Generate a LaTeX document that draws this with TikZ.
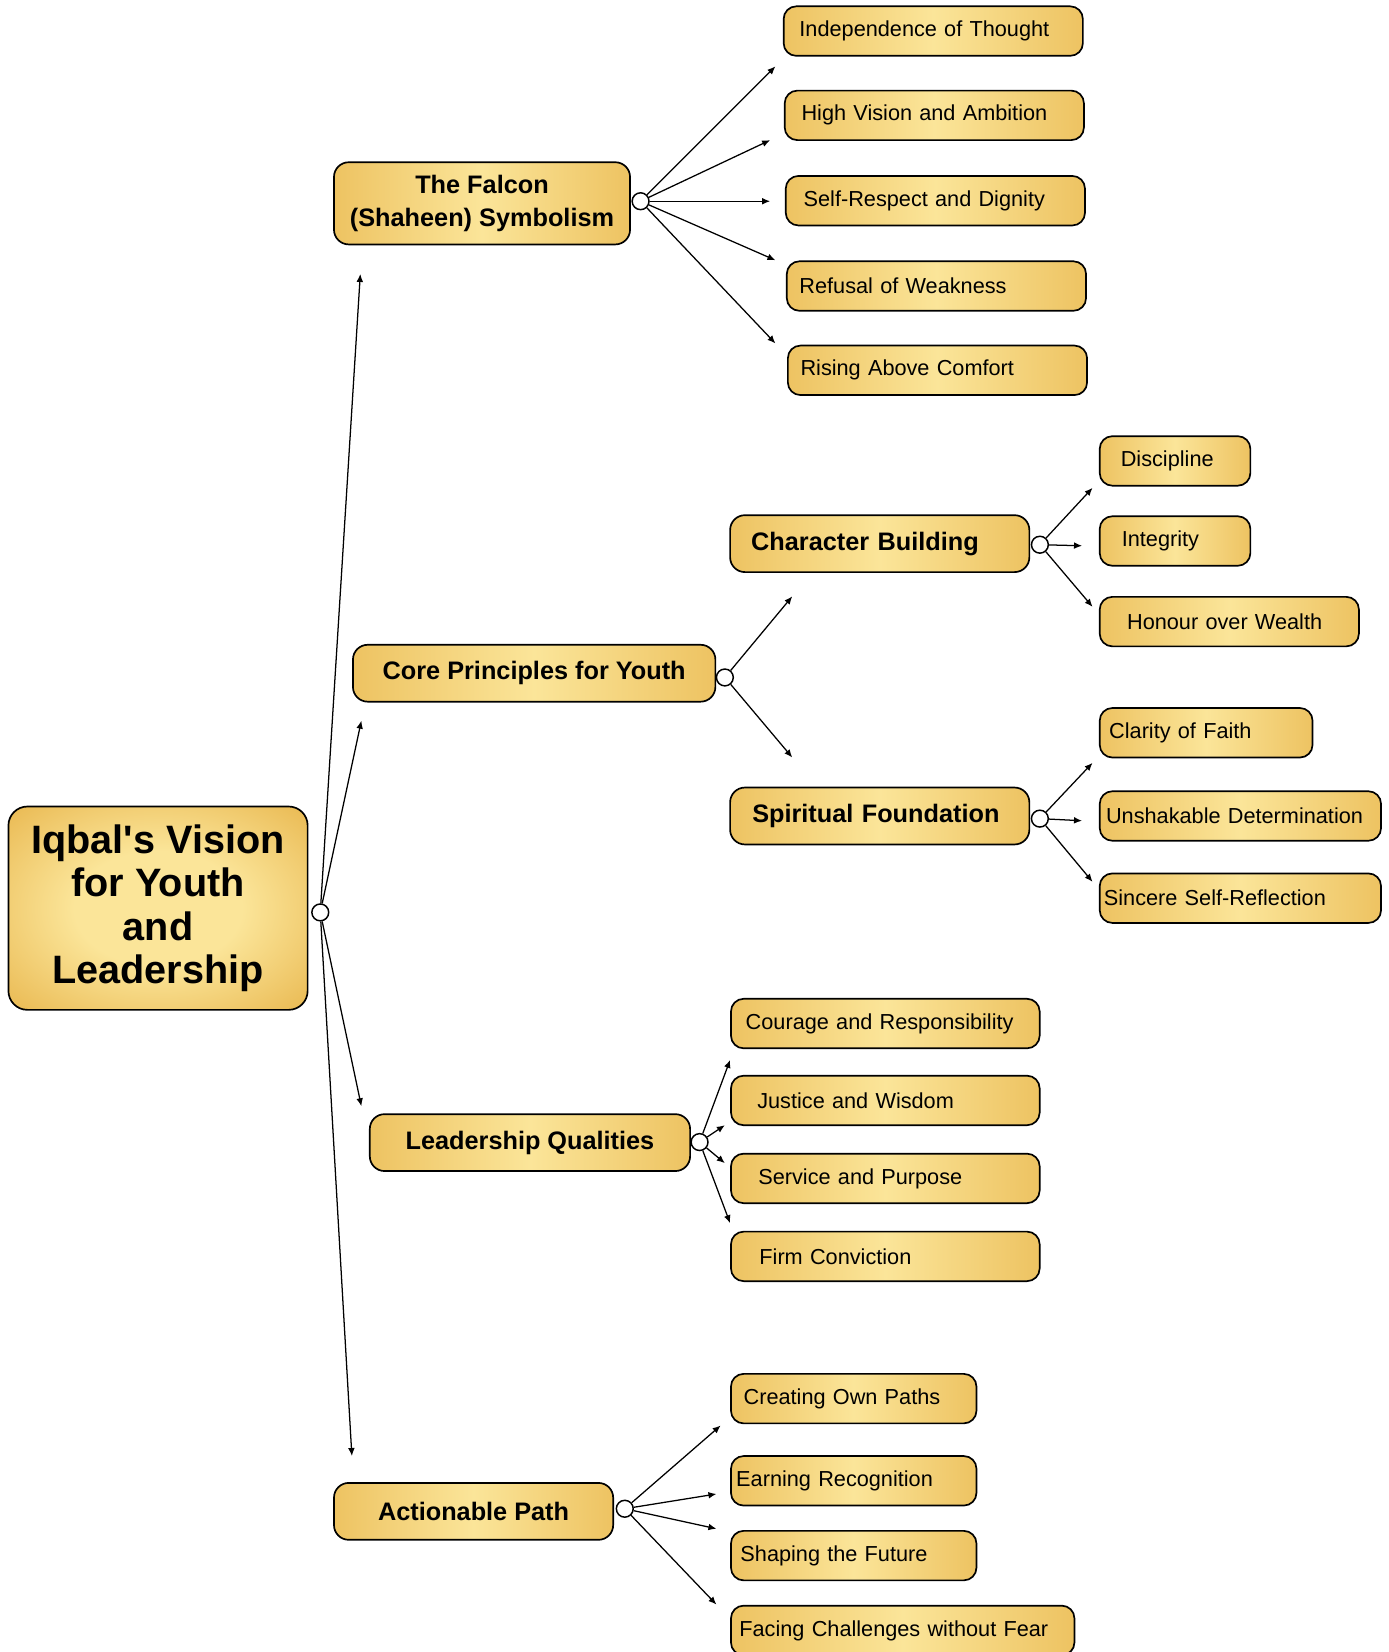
\documentclass[tikz,border=0pt]{standalone}
\usepackage{fontspec}
\setmainfont{Liberation Sans}
\usepackage{xcolor}
\usepackage{tikz}
\usetikzlibrary{arrows.meta}
\usetikzlibrary{positioning}
\definecolor{goldtan}{RGB}{217,179,106}
\definecolor{goldmid}{RGB}{233,184,80}
\definecolor{goldlight}{RGB}{251,229,153}
\pgfdeclarehorizontalshading{goldbar}{100bp}{color(0bp)=(goldtan); color(17bp)=(goldmid);
  color(50bp)=(goldlight); color(83bp)=(goldmid); color(100bp)=(goldtan)}
\pgfdeclareradialshading{goldglow}{\pgfpoint{0bp}{0bp}}{color(0bp)=(goldlight);
  color(14bp)=(goldlight); color(36bp)=(goldmid); color(50bp)=(goldtan); color(70bp)=(goldtan)}
\tikzset{%
  >={Latex[width=3.2pt,length=3.8pt]},
  % Specifications for style of nodes:
  base/.style = {rectangle, rounded corners=6pt, draw=black, line width=0.8pt,
    shading=goldbar, text=black, inner ysep=0pt},
  root/.style = {base, rounded corners=9pt, shading=goldglow,
    minimum width=142pt, minimum height=96.5pt, align=center,
    font=\bfseries\fontsize{18.8}{20.5}\selectfont},
  topic/.style = {base, rounded corners=7pt, minimum height=27pt,
    align=center, font=\bfseries\fontsize{12}{16}\selectfont},
  leaf/.style 2 args = {base, minimum height=23.5pt, text width=#1,
    inner xsep=#2, align=left, anchor=west,
    font=\fontsize{10.3}{12}\selectfont},
  hub/.style = {circle, draw=black, fill=white, line width=0.7pt,
    minimum size=8pt, inner sep=0pt},
  link/.style = {->, line width=0.6pt},
}

\begin{document}
\begin{tikzpicture}[x=0.5pt, y=-0.5pt]
  \useasboundingbox (0,0) rectangle (1318,1568);
  % Specification of nodes (position, etc.)
  \node(Vision)[root] at (150,862) {Iqbal\textquotesingle s Vision\\for Youth\\and\\Leadership};
  \node(Falcon)[topic,minimum width=140.5pt,minimum height=39pt] at (457.5,193)
    {The Falcon\\(Shaheen) Symbolism};
  \node(Core)[topic,minimum width=172pt] at (507,639) {Core Principles for Youth};
  \node(Character)[topic,text width=122pt,inner xsep=10pt,align=left] at (835,516)
    {Character Building};
  \node(Spirit)[topic,text width=121pt,inner xsep=10.5pt,align=left] at (835,774.5)
    {Spiritual Foundation};
  \node(Lead)[topic,minimum width=152pt] at (503,1084.5) {Leadership Qualities};
  \node(Path)[topic,minimum width=132.5pt] at (449.5,1434.5) {Actionable Path};

  % leaves of the falcon
  \node(Indep)[leaf={127pt}{7.5pt}] at (743,29.5) {Independence of Thought};
  \node(HighVision)[leaf={126pt}{8pt}] at (744,109.5) {High Vision and Ambition};
  \node(SelfRespect)[leaf={125pt}{8.5pt}] at (745,190.5) {Self-Respect and Dignity};
  \node(Refusal)[leaf={130pt}{6pt}] at (746,271.5) {Refusal of Weakness};
  \node(Rising)[leaf={130pt}{6pt}] at (747,351.5) {Rising Above Comfort};
  % leaves of character and spirit
  \node(Discipline)[leaf={51.5pt}{10pt}] at (1043,437.5) {Discipline};
  \node(Integrity)[leaf={50.5pt}{10.5pt}] at (1043,513.5) {Integrity};
  \node(Honour)[leaf={97pt}{13pt}] at (1043,590) {Honour over Wealth};
  \node(Clarity)[leaf={92pt}{4.5pt}] at (1043,695.5) {Clarity of Faith};
  \node(Unshakable)[leaf={127.5pt}{3pt}] at (1043,774.5) {Unshakable Determination};
  \node(Sincere)[leaf={129.5pt}{2pt}] at (1043,852.5) {Sincere Self-Reflection};
  % leaves of leadership
  \node(Courage)[leaf={132.5pt}{7pt}] at (693,971.5) {Courage and Responsibility};
  \node(Justice)[leaf={121.5pt}{12.5pt}] at (693,1044.5) {Justice and Wisdom};
  \node(Service)[leaf={120.5pt}{13pt}] at (693,1118.5) {Service and Purpose};
  \node(Firm)[leaf={119.5pt}{13.5pt}] at (693,1192.5) {Firm Conviction};
  % leaves of the path
  \node(Creating)[leaf={104.5pt}{6pt}] at (693,1327.5) {Creating Own Paths};
  \node(Earning)[leaf={111.5pt}{2.5pt}] at (693,1405.5) {Earning Recognition};
  \node(Shaping)[leaf={107.5pt}{4.5pt}] at (693,1476.5) {Shaping the Future};
  \node(Facing)[leaf={155pt}{4pt}] at (693,1547.5) {Facing Challenges without Fear};

  % hubs
  \node(VisionHub)[hub] at (304,866) {};
  \node(FalconHub)[hub] at (608,191) {};
  \node(CoreHub)[hub] at (688,643) {};
  \node(CharacterHub)[hub] at (987,517) {};
  \node(SpiritHub)[hub] at (987,777) {};
  \node(LeadHub)[hub] at (664,1084) {};
  \node(PathHub)[hub] at (593,1432) {};

  % free ends of the arrows
  \coordinate(toFalcon) at (342,260);
  \coordinate(toCore) at (343,684);
  \coordinate(toLead) at (343,1050);
  \coordinate(toPath) at (334,1382);
  \coordinate(toIndep) at (736,63);
  \coordinate(toHighVision) at (731,133);
  \coordinate(toSelfRespect) at (731,191);
  \coordinate(toRefusal) at (736,247);
  \coordinate(toRising) at (736,326);
  \coordinate(toCharacter) at (752,566);
  \coordinate(toSpirit) at (752,719);
  \coordinate(toDiscipline) at (1037,463);
  \coordinate(toIntegrity) at (1027,518);
  \coordinate(toHonour) at (1037,576);
  \coordinate(toClarity) at (1037,724);
  \coordinate(toUnshakable) at (1027,779);
  \coordinate(toSincere) at (1037,837);
  \coordinate(toCourage) at (693,1006);
  \coordinate(toJustice) at (688,1068);
  \coordinate(toService) at (688,1104);
  \coordinate(toFirm) at (693,1161);
  \coordinate(toCreating) at (684,1353);
  \coordinate(toEarning) at (680,1418);
  \coordinate(toShaping) at (680,1451);
  \coordinate(toFacing) at (680,1523);

  \draw[link](VisionHub) -- (toFalcon);
  \draw[link](VisionHub) -- (toCore);
  \draw[link](VisionHub) -- (toLead);
  \draw[link](VisionHub) -- (toPath);
  \draw[link](FalconHub) -- (toIndep);
  \draw[link](FalconHub) -- (toHighVision);
  \draw[link](FalconHub) -- (toSelfRespect);
  \draw[link](FalconHub) -- (toRefusal);
  \draw[link](FalconHub) -- (toRising);
  \draw[link](CoreHub) -- (toCharacter);
  \draw[link](CoreHub) -- (toSpirit);
  \draw[link](CharacterHub) -- (toDiscipline);
  \draw[link](CharacterHub) -- (toIntegrity);
  \draw[link](CharacterHub) -- (toHonour);
  \draw[link](SpiritHub) -- (toClarity);
  \draw[link](SpiritHub) -- (toUnshakable);
  \draw[link](SpiritHub) -- (toSincere);
  \draw[link](LeadHub) -- (toCourage);
  \draw[link](LeadHub) -- (toJustice);
  \draw[link](LeadHub) -- (toService);
  \draw[link](LeadHub) -- (toFirm);
  \draw[link](PathHub) -- (toCreating);
  \draw[link](PathHub) -- (toEarning);
  \draw[link](PathHub) -- (toShaping);
  \draw[link](PathHub) -- (toFacing);
\end{tikzpicture}
\end{document}
